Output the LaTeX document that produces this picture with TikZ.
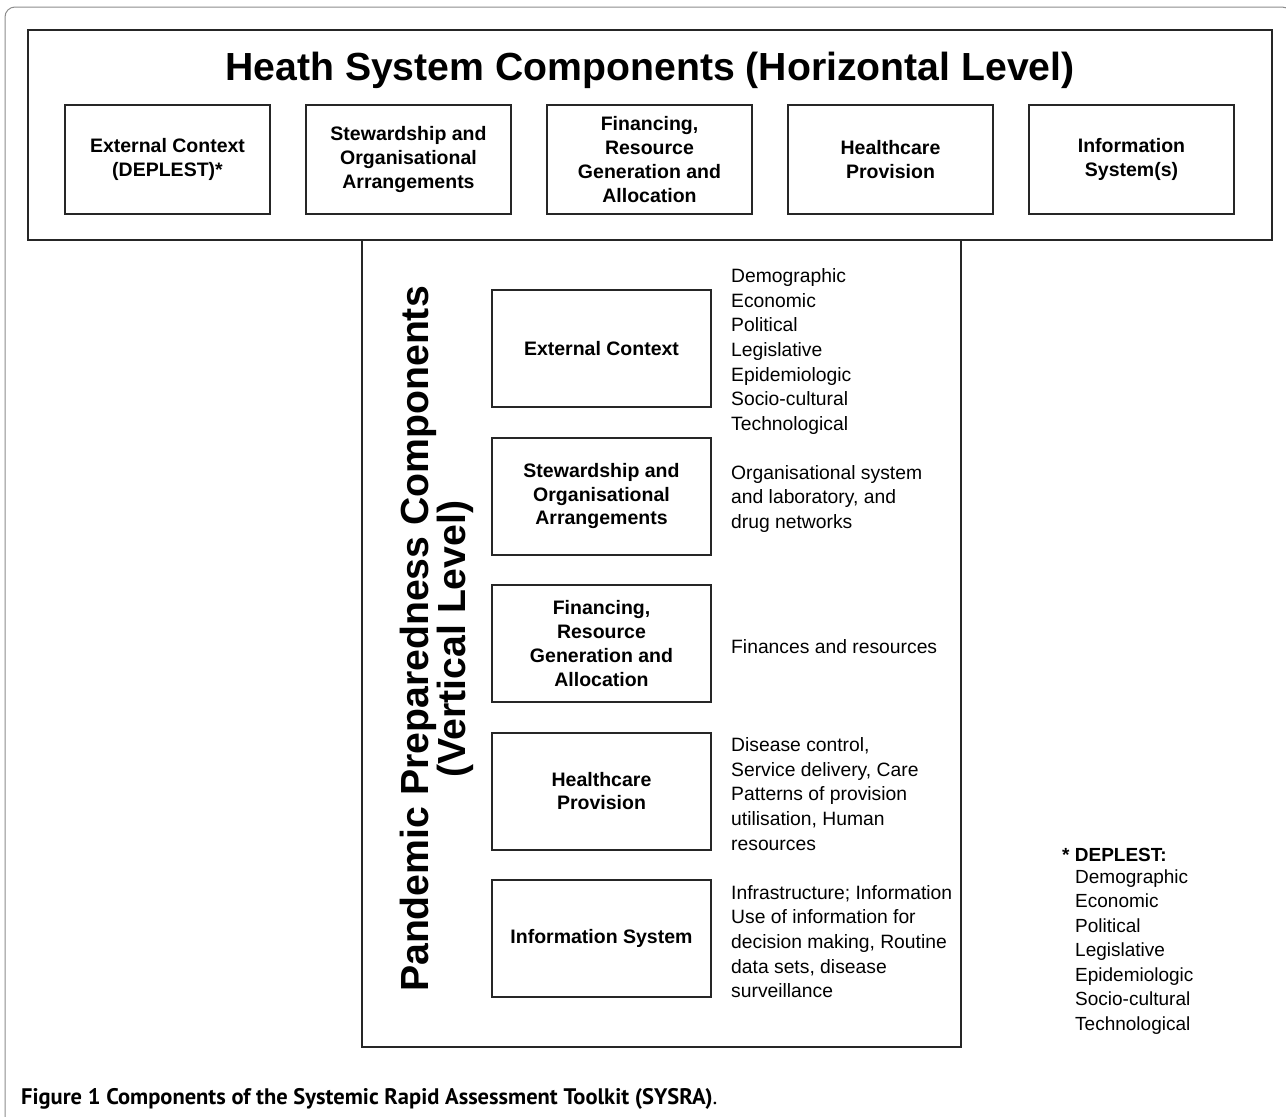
\documentclass[tikz,border=0pt]{standalone}
\usepackage{fontspec}
\setmainfont{Liberation Sans}
\newfontfamily\captionfont{PT Sans}
\usetikzlibrary{positioning}
\tikzset{
    frame-line/.style = {draw=black!85, line width=2pt},
    hs-box/.style = {frame-line, rectangle, minimum width=205pt, minimum height=109pt, inner sep=2pt, align=center, font=\fontsize{19.5}{23.8}\selectfont\bfseries},
    pp-box/.style = {hs-box, minimum width=219pt, minimum height=117pt},
    pp-list/.style = {right=19pt of #1, yshift=-3pt, inner sep=0pt, align=left, font=\fontsize{19.3}{24.6}\selectfont},
    big-title/.style = {inner sep=0pt, align=center, font=\fontsize{39.2}{37}\selectfont\bfseries},
}

\begin{document}
\begin{tikzpicture}[x=1pt, y=-1pt]
\useasboundingbox (0,0) rectangle (1286,1117);
\begin{scope}
\clip (0,0) rectangle (1286,1117);
\draw[black!45, line width=1pt, rounded corners=10pt] (5,1140) -- (5,7) -- (1292,7) -- (1292,1140);
\end{scope}

\node[frame-line, minimum width=1244pt, minimum height=210pt] (hs-frame) at (650,135) {};
\node[big-title] (hs-title) at (650,70) {Heath System Components (Horizontal Level)};
\node[hs-box] (hs-ext) at (167.5,159.5) {External Context\\(DEPLEST)*};
\node[hs-box, right=34pt of hs-ext] (hs-stew) {Stewardship and\\Organisational\\Arrangements};
\node[hs-box, right=34pt of hs-stew] (hs-fin) {Financing,\\Resource\\Generation and\\Allocation};
\node[hs-box, right=34pt of hs-fin] (hs-care) {Healthcare\\Provision};
\node[hs-box, right=34pt of hs-care] (hs-info) {Information\\System(s)};

\node[frame-line, minimum width=599pt, minimum height=807pt] (pp-frame) at (661.5,643.5) {};
\node[big-title, rotate=90] (pp-title) at (437,639) {Pandemic Preparedness Components\\(Vertical Level)};

\node[pp-box] (pp-ext) at (601.5,348.5) {External Context};
\node[pp-box, below=28.5pt of pp-ext] (pp-stew) {Stewardship and\\Organisational\\Arrangements};
\node[pp-box, below=28.5pt of pp-stew] (pp-fin) {Financing,\\Resource\\Generation and\\Allocation};
\node[pp-box, below=28.5pt of pp-fin] (pp-care) {Healthcare\\Provision};
\node[pp-box, below=28.5pt of pp-care] (pp-info) {Information System};

\node[pp-list=pp-ext] (pp-ext-list) {Demographic\\Economic\\Political\\Legislative\\Epidemiologic\\Socio-cultural\\Technological};
\node[pp-list=pp-stew] (pp-stew-list) {Organisational system\\and laboratory, and\\drug networks};
\node[pp-list=pp-fin] (pp-fin-list) {Finances and resources};
\node[pp-list=pp-care] (pp-care-list) {Disease control,\\Service delivery, Care\\Patterns of provision\\utilisation, Human\\resources};
\node[pp-list=pp-info] (pp-info-list) {Infrastructure; Information\\Use of information for\\decision making, Routine\\data sets, disease\\surveillance};

\node[inner sep=0pt, anchor=west, align=left, font=\fontsize{19}{24.5}\selectfont] (deplest-list) at (1075,952) {Demographic\\Economic\\Political\\Legislative\\Epidemiologic\\Socio-cultural\\Technological};
\node[inner sep=0pt, above=8pt of deplest-list.north west, anchor=south west, xshift=-13pt, font=\fontsize{19}{24.5}\selectfont\bfseries] (deplest-title) {* DEPLEST:};

\node[inner sep=0pt, anchor=base west, font=\captionfont\fontsize{22.5}{26}\selectfont] (caption) at (21,1104) {\textbf{Figure 1 Components of the Systemic Rapid Assessment Toolkit (SYSRA)}.};
\end{tikzpicture}
\end{document}
